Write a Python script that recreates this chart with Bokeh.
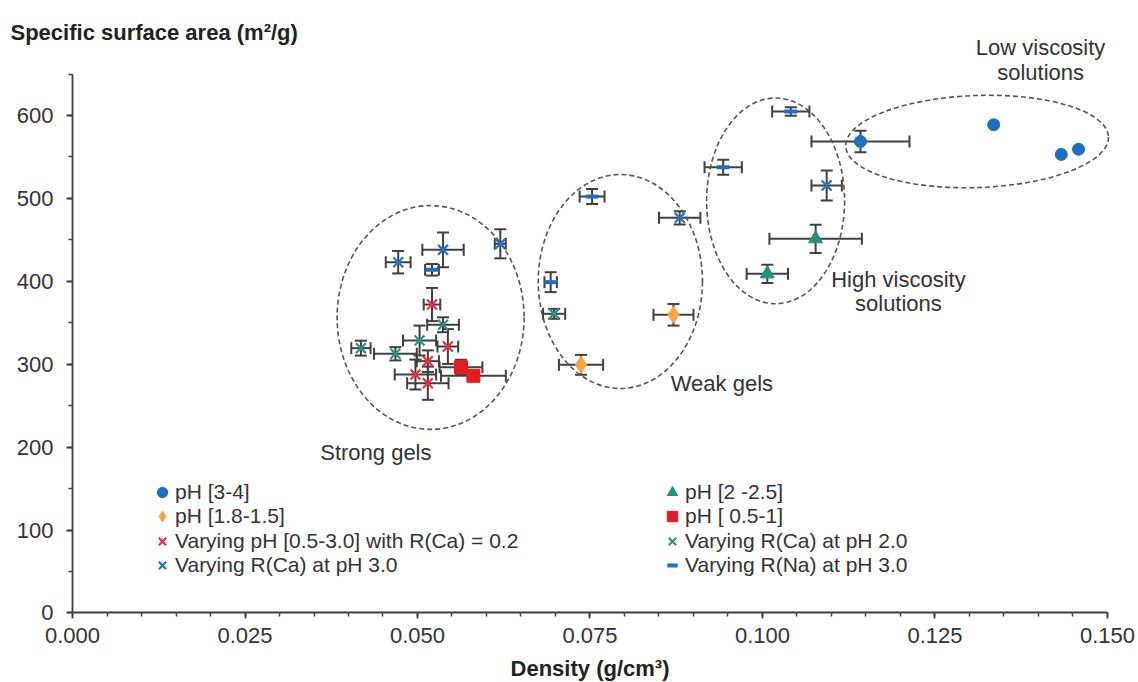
import numpy as np
from bokeh.plotting import figure
from bokeh.models import (ColumnDataSource, Whisker, TeeHead, Legend, LegendItem, Label,
                          FixedTicker, NumeralTickFormatter, Range1d)
from bokeh.embed import file_html
from bokeh.resources import INLINE

# ---------------- data ----------------
# pH [3-4]
ph34_x = [0.1142, 0.1335, 0.1433, 0.1458]
ph34_y = [568.6, 588.8, 553.0, 559.3]
ph34_xerr = [0.0071, 0.0, 0.0, 0.0]
ph34_yerr = [13.0, 0.0, 0.0, 0.0]

# pH [2 -2.5]
ph225_x = [0.1077, 0.1007]
ph225_y = [451.3, 409.0]
ph225_xerr = [0.0067, 0.0030]
ph225_yerr = [17.0, 11.0]

# pH [1.8-1.5]
ph1815_x = [0.0871, 0.0737]
ph1815_y = [359.6, 299.3]
ph1815_xerr = [0.0029, 0.0032]
ph1815_yerr = [13.0, 12.0]

# pH [ 0.5-1]
ph051_x = [0.0563, 0.0581]
ph051_y = [296.4, 286.0]
ph051_xerr = [0.0031, 0.0047]
ph051_yerr = [9.0, 5.0]

# Varying pH [0.5-3.0] with R(Ca) = 0.2
vph_x = [0.0521, 0.0544, 0.0515, 0.0497, 0.0515]
vph_y = [372.0, 321.4, 303.7, 287.6, 277.1]
vph_xerr = [0.0012, 0.0015, 0.0016, 0.0030, 0.0030]
vph_yerr = [20.0, 21.0, 13.0, 18.0, 20.0]

# Varying R(Ca) at pH 2.0
rca2_x = [0.0698, 0.0537, 0.0503, 0.0418, 0.0468]
rca2_y = [360.8, 347.6, 328.6, 319.4, 312.6]
rca2_xerr = [0.0016, 0.0023, 0.0024, 0.0014, 0.0031]
rca2_yerr = [6.0, 9.0, 18.0, 9.0, 8.0]

# Varying R(Ca) at pH 3.0
rca3_x = [0.1093, 0.0880, 0.0620, 0.0537, 0.0472]
rca3_y = [515.6, 476.6, 445.2, 438.0, 423.0]
rca3_xerr = [0.0022, 0.0030, 0.0008, 0.0030, 0.0018]
rca3_yerr = [18.0, 8.0, 17.5, 21.0, 13.5]

# Varying R(Na) at pH 3.0
rna3_x = [0.1041, 0.0943, 0.0753, 0.0693, 0.0521]
rna3_y = [604.8, 537.6, 502.3, 399.0, 413.9]
rna3_xerr = [0.0027, 0.0027, 0.0018, 0.0009, 0.0010]
rna3_yerr = [5.0, 9.0, 9.0, 12.0, 7.0]

# group ellipses: Strong gels, Weak gels, High viscosity, Low viscosity
ell_x = [0.0519, 0.0794, 0.1019, 0.1311]
ell_y = [356.4, 399.8, 497.0, 568.6]
ell_w = [0.0271, 0.0238, 0.0200, 0.0381]
ell_h = [270.0, 258.0, 248.0, 111.0]
ell_angle = [0.0, 0.0, 0.0, 0.035]

x_ticks = [0.0, 0.025, 0.05, 0.075, 0.1, 0.125, 0.15]
x_minor = [round(i * 0.005, 3) for i in range(31)]
y_ticks = [0, 100, 200, 300, 400, 500, 600]
y_minor = list(range(0, 651, 50))
x_axis_title = "Density (g/cm³)"
y_axis_title = "Specific surface area (m²/g)"

FONT = "Liberation Sans"
TXT = "#333333"
ERR = "#404040"

# The frame covers the whole canvas so that the titles and group labels
# can sit outside the axes' extent; the axes are pinned at 0.
p = figure(width=1138, height=682,
           x_range=Range1d(-0.0104348, 0.1544928), y_range=Range1d(-83.82, 738.66),
           output_backend="svg", toolbar_location=None, min_border=0,
           min_border_left=0, min_border_right=0, min_border_top=0, min_border_bottom=0)
p.outline_line_color = None
p.xgrid.visible = False
p.ygrid.visible = False
p.background_fill_color = "white"
p.border_fill_color = "white"

# ellipses
p.ellipse(x=ell_x, y=ell_y, width=ell_w, height=ell_h, angle=ell_angle,
          fill_color=None, line_color="#555555", line_width=1.6, line_dash="5 3")


def add_series(xs, ys, xerr, yerr, marker, color, size, lw=1.0):
    xs = np.array(xs); ys = np.array(ys); xerr = np.array(xerr); yerr = np.array(yerr)
    mx = xerr > 0
    if mx.any():
        s = ColumnDataSource(dict(base=ys[mx], lo=(xs - xerr)[mx], hi=(xs + xerr)[mx]))
        p.add_layout(Whisker(source=s, base="base", lower="lo", upper="hi", dimension="width",
                             line_color=ERR, line_width=2,
                             lower_head=TeeHead(size=12, line_color=ERR, line_width=2),
                             upper_head=TeeHead(size=12, line_color=ERR, line_width=2)))
    my = yerr > 0
    if my.any():
        s = ColumnDataSource(dict(base=xs[my], lo=(ys - yerr)[my], hi=(ys + yerr)[my]))
        p.add_layout(Whisker(source=s, base="base", lower="lo", upper="hi", dimension="height",
                             line_color=ERR, line_width=2,
                             lower_head=TeeHead(size=12, line_color=ERR, line_width=2),
                             upper_head=TeeHead(size=12, line_color=ERR, line_width=2)))
    src = ColumnDataSource(dict(x=xs, y=ys))
    return p.scatter("x", "y", source=src, marker=marker, size=size,
                     fill_color=color, line_color=color, line_width=lw)


r_ph34 = add_series(ph34_x, ph34_y, ph34_xerr, ph34_yerr, "circle", "#1F6FC0", 12)
r_ph225 = add_series(ph225_x, ph225_y, ph225_xerr, ph225_yerr, "triangle", "#20917F", 14)
r_ph1815 = add_series(ph1815_x, ph1815_y, ph1815_xerr, ph1815_yerr, "diamond", "#F9A443", 17)
r_ph051 = add_series(ph051_x, ph051_y, ph051_xerr, ph051_yerr, "square", "#E51B24", 13)
r_vph = add_series(vph_x, vph_y, vph_xerr, vph_yerr, "x", "#EE2D3A", 14, lw=2.2)
r_rca2 = add_series(rca2_x, rca2_y, rca2_xerr, rca2_yerr, "x", "#2A9484", 14, lw=2.2)
r_rca3 = add_series(rca3_x, rca3_y, rca3_xerr, rca3_yerr, "x", "#2A72C4", 14, lw=2.2)
r_rna3 = add_series(rna3_x, rna3_y, rna3_xerr, rna3_yerr, "dash", "#1F6FC0", 13, lw=4)

# axes pinned at the origin
for ax in (p.xaxis[0], p.yaxis[0]):
    ax.fixed_location = 0
    ax.axis_line_color = ERR
    ax.axis_line_width = 1.8
    ax.major_tick_line_color = ERR
    ax.major_tick_line_width = 1.8
    ax.minor_tick_line_color = ERR
    ax.minor_tick_line_width = 1.5
    ax.major_tick_in = 0
    ax.major_tick_out = 6
    ax.minor_tick_in = 0
    ax.minor_tick_out = 4
    ax.major_label_text_font = FONT
    ax.major_label_text_font_size = "22px"
    ax.major_label_text_color = TXT

p.xaxis.bounds = (x_ticks[0], x_ticks[-1])
p.yaxis.bounds = (y_minor[0], y_minor[-1])
p.xaxis.ticker = FixedTicker(ticks=x_ticks, minor_ticks=x_minor)
p.xaxis.formatter = NumeralTickFormatter(format="0.000")
p.yaxis.ticker = FixedTicker(ticks=y_ticks, minor_ticks=y_minor)
p.xaxis.major_label_standoff = 9
p.yaxis.major_label_standoff = 13

# legend: two columns of four entries, one legend box per entry
legend_cols = [
    [("pH [3-4]", r_ph34), ("pH [1.8-1.5]", r_ph1815),
     ("Varying pH [0.5-3.0] with R(Ca) = 0.2", r_vph), ("Varying R(Ca) at pH 3.0", r_rca3)],
    [("pH [2 -2.5]", r_ph225), ("pH [ 0.5-1]", r_ph051),
     ("Varying R(Ca) at pH 2.0", r_rca2), ("Varying R(Na) at pH 3.0", r_rna3)],
]
col_x = [149, 659]
row_y = [176.8, 152.6, 128.4, 104.2]
for cx, col in zip(col_x, legend_cols):
    for ry, (label, rend) in zip(row_y, col):
        p.add_layout(Legend(items=[LegendItem(label=label, renderers=[rend])],
                            location=(cx, ry), orientation="vertical",
                            label_text_font=FONT, label_text_font_size="21px",
                            label_text_color=TXT, glyph_width=26, glyph_height=26,
                            label_height=21, label_standoff=-3, spacing=0, padding=0,
                            margin=0, border_line_color=None, background_fill_alpha=0.0))

# titles and group annotations
def lab(x, y, text, align="left", bold=False, size="22px", color=TXT):
    p.add_layout(Label(x=x, y=y, text=text, text_align=align, text_baseline="middle",
                       text_font=FONT, text_font_size=size, text_color=color,
                       text_font_style="bold" if bold else "normal"))

lab(-0.008986, 700.4, y_axis_title, bold=True, color="#222222")
lab(0.0750, -66.9, x_axis_title, align="center", bold=True, color="#222222")
lab(0.0359, 193.6, "Strong gels")
lab(0.0867, 276.4, "Weak gels")
lab(0.1197, 401.8, "High viscosity", align="center")
lab(0.1197, 372.9, "solutions", align="center")
lab(0.1403, 682.0, "Low viscosity", align="center")
lab(0.1403, 651.8, "solutions", align="center")

open("out.html", "w").write(file_html(p, INLINE))
